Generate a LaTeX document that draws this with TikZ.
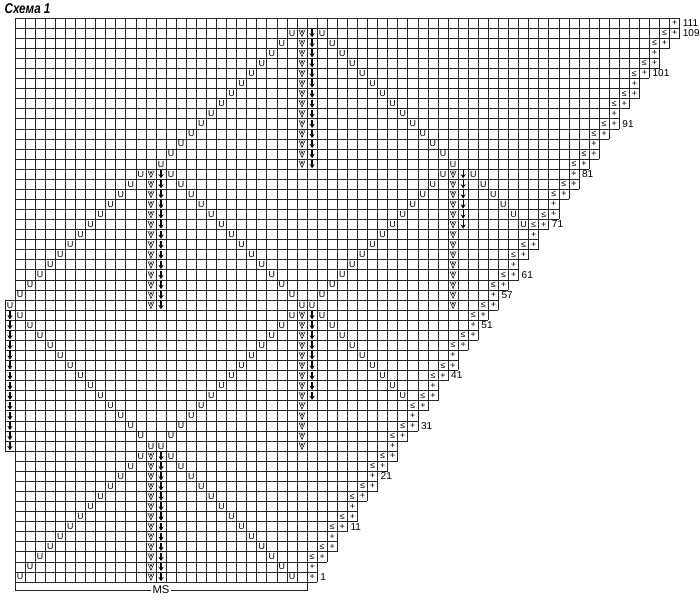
\documentclass[tikz,border=0pt]{standalone}
\usepackage{fontspec}
\setmainfont{Liberation Sans}
\usetikzlibrary{arrows,calc}
\newcommand{\yo}[2]{\node[sym] at (#1+.5,#2+.5) {U};}
\newcommand{\vv}[2]{\draw[stitch,shift={(#1+.5,#2+.5)}] (-.3,.34) -- (0,-.34) -- (.3,.34) (-.12,.34) -- (0,.02) -- (.12,.34);}
\newcommand{\dn}[2]{\draw[stitch,line width=1.1pt,shift={(#1+.5,#2+.5)}] (0,.4) -- (0,-.15);
\fill[black,shift={(#1+.5,#2+.5)}] (-.26,0) -- (0,-.42) -- (.26,0) -- (0,-.13) -- cycle;}

\begin{document}
\begin{tikzpicture}
[scale=.3,
gridline/.style={black!85,line width=.5pt},
stitch/.style={black,line width=.45pt},
sym/.style={inner sep=0pt,font=\fontsize{7.5}{8}\selectfont},
rownum/.style={anchor=west,inner sep=0pt,xshift=2.5pt,font=\fontsize{8.5}{10}\selectfont}]
\useasboundingbox (-1.49,-1.93) rectangle (68.02,57.79);
%%
\node[anchor=base west,inner sep=0pt,font=\bfseries\itshape\fontsize{12}{13}\selectfont] (title) at (-1.05,56.4) {\scalebox{.82}[1]{Схема 1}};
%% grid, one row at a time
\foreach \k in {0,...,55}{
  \pgfmathtruncatemacro{\c}{29+floor((2*\k+.5)/3)}
  \draw[gridline,step=1] (0,\k) grid (\c+1,\k+1);
}
\draw[gridline,step=1] (-1,13) grid (0,28);
%% edge stitches and increases
\foreach \k in {0,...,55}{
  \pgfmathtruncatemacro{\c}{29+floor((2*\k+.5)/3)}
  \pgfmathtruncatemacro{\m}{mod(\k,3)}
  \node[sym] at (\c+.5,\k+.5) {+};
  \ifnum\k>1 \ifnum\m=1 \else \node[sym] at (\c-.5,\k+.5) {≤}; \fi\fi
}
%% upper middle
\foreach \k in {41,...,54}{
  \pgfmathtruncatemacro{\a}{\k-27}
  \pgfmathtruncatemacro{\b}{84-\k}
  \yo{\a}{\k} \yo{\b}{\k} \vv{28}{\k} \dn{29}{\k}
}
%% left and right, rows 55 to 81
\foreach \k in {27,...,40}{
  \pgfmathtruncatemacro{\a}{\k-28}
  \pgfmathtruncatemacro{\b}{55-\k}
  \pgfmathtruncatemacro{\d}{\k+2}
  \yo{\a}{\k} \yo{\b}{\k} \vv{13}{\k} \dn{14}{\k}
  \yo{\d}{\k} \vv{43}{\k}
}
\foreach \k in {35,...,40}{
  \pgfmathtruncatemacro{\b}{85-\k}
  \yo{\b}{\k} \dn{44}{\k}
}
%% lower middle and left border
\foreach \k in {13,...,26}{
  \pgfmathtruncatemacro{\a}{\k+1}
  \pgfmathtruncatemacro{\b}{26-\k}
  \yo{\a}{\k} \yo{\b}{\k} \vv{28}{\k} \dn{-1}{\k}
}
\foreach \k in {18,...,26}{
  \pgfmathtruncatemacro{\b}{56-\k}
  \yo{\b}{\k} \dn{29}{\k}
}
%% bottom
\foreach \k in {0,...,12}{
  \pgfmathtruncatemacro{\b}{27-\k}
  \yo{\k}{\k} \yo{\b}{\k} \vv{13}{\k} \dn{14}{\k}
}
%% row numbers
\foreach \r in {1,11,21,31,41,51,57,61,71,81,91,101,109,111}{
  \pgfmathtruncatemacro{\k}{(\r-1)/2+.1}
  \pgfmathtruncatemacro{\c}{29+floor((2*\k+.5)/3)}
  \node[rownum] at (\c+1,\k+.5) {\r};
}
%% pattern repeat
\coordinate (msl) at (0,0);
\coordinate (msr) at (29,0);
\draw[gridline] (msl) -- ++(0,-.8) -| (msr);
\node[fill=white,inner sep=1.5pt,font=\fontsize{9.5}{11}\selectfont] (ms) at (14.5,-.8) {MS};
\end{tikzpicture}
\end{document}
